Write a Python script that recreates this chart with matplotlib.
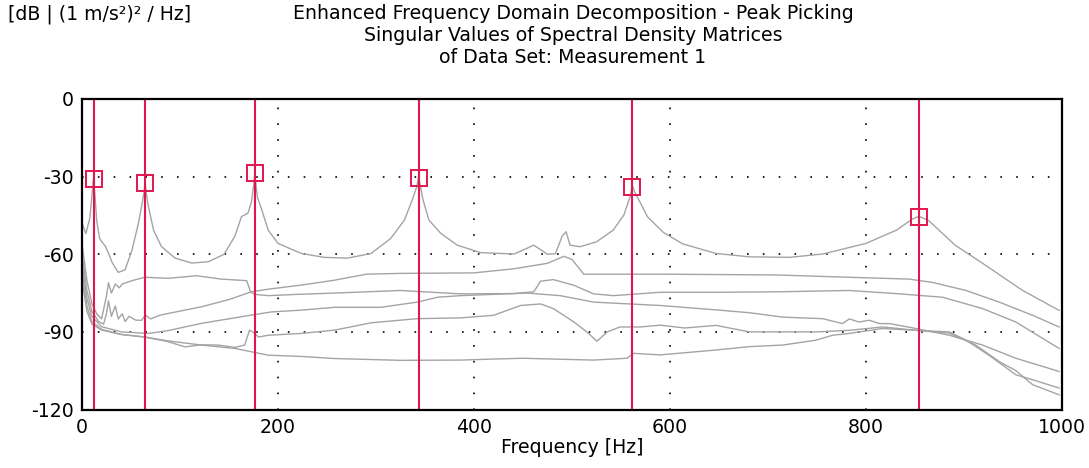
"""EFDD peak picking: singular values of spectral density matrices."""
import matplotlib
matplotlib.use("Agg")
import matplotlib.pyplot as plt

plt.rcParams["font.family"] = ["DejaVu Sans"]
plt.rcParams["axes.unicode_minus"] = False

# singular value curves (Hz, dB)
sv1_f = [0, 4, 8, 10, 11.5, 13, 15, 18, 24, 27, 31, 37, 44, 51, 57.6, 61.5, 63.5, 64.4, 65.5, 67.5,
         73, 81, 95, 112, 129, 145, 156, 162.7, 169.5, 173, 175.3, 176.3, 177.5, 179, 183, 190,
         200, 217, 224, 247, 271, 295, 315, 329, 337, 341.5, 343.4, 345.5, 348, 354, 366, 383,
         407, 441, 461, 475, 483, 490, 494, 498, 508, 525, 542, 553, 559, 561.7, 564, 570, 577,
         593, 613, 647, 681, 722, 756, 800, 831, 847, 854, 864, 891, 919, 959, 997]
sv1_db = [-48, -52, -46, -38, -31, -36, -47, -54, -57, -59.6, -63.4, -67, -66, -58.4, -48, -40,
          -35.5, -32, -36, -41, -50.7, -57, -61.5, -63.4, -62.9, -60, -53, -45.5, -44, -39.6,
          -33, -28.5, -33, -38, -42.3, -50.7, -55.8, -58.6, -59.7, -61.2, -61.5, -59.7, -53.9,
          -46.8, -39, -34, -30, -34, -39, -46.8, -51.9, -56.5, -59.4, -59.9, -56.5, -60, -59.8,
          -53, -51.3, -56.5, -57.1, -55.2, -50.7, -44.8, -38, -33.5, -36, -40.3, -45.5, -51.5,
          -56, -59.7, -61, -61.2, -59.9, -55.8, -50.7, -46.5, -45.3, -47, -56.5, -63.5, -73.8,
          -81.7]

sv2_f = [0, 5, 10, 15, 20, 25, 27, 30, 34, 38, 41, 51, 64, 88, 117, 142, 168, 172, 176, 190, 220,
         258, 325, 386, 440, 461, 468, 481, 502, 522, 542, 590, 650, 712, 783, 834, 878, 919,
         953, 997]
sv2_db = [-56, -70, -79, -83, -85, -76, -71, -75, -71.5, -73, -71.5, -70.2, -68.9, -69.3, -68.3,
          -69.6, -70.2, -74.5, -75.5, -76, -75.5, -75, -74, -75.3, -75.2, -74.5, -70.4, -69.8,
          -72, -75.3, -76, -74.7, -74.7, -74.5, -74, -75.3, -76.6, -81, -86.2, -96.4]

sv3_f = [0, 5, 10, 17, 22, 25, 27, 30, 34, 37, 41, 44, 48, 55, 61, 64.5, 70, 80, 122, 150, 173,
         190, 224, 258, 290, 325, 400, 441, 475, 491.6, 500, 512, 590, 708, 783, 844, 868, 902,
         936, 970, 997]
sv3_db = [-60, -74, -82, -86, -87, -83, -78, -84, -80, -85, -83, -86, -84, -85.5, -85.5, -83.5,
          -85, -83.5, -80.3, -77.5, -74.5, -73.5, -71.9, -70, -67.7, -67.4, -67.2, -65.6, -63.5,
          -60.8, -62, -67.7, -67.7, -68, -68.9, -69.6, -70.9, -74, -78.5, -83.6, -88.1]

sv4_f = [0, 5, 10, 20, 40, 67.8, 88, 122, 173, 193, 224, 258, 305, 342, 363, 386, 454, 488, 522,
         590, 647, 681, 715, 756, 776, 783, 793, 803, 814, 824, 851, 868, 885, 919, 953, 997]
sv4_db = [-63, -77, -84, -88, -90, -90.6, -89.5, -86.7, -83.5, -82.3, -81.6, -80.5, -80.5, -78.5,
          -76.6, -76, -75, -76, -78.5, -79.8, -81.5, -82.6, -84.3, -84.9, -86.8, -85, -86.2,
          -85.5, -86.8, -86.8, -88.7, -90, -91.3, -95.1, -100.2, -105.3]

sv5_f = [0, 5, 10, 20, 40, 64, 88, 105, 122, 139, 156, 166, 171, 176, 180, 190, 224, 258, 295,
         342, 386, 420, 447.5, 468, 481, 502, 515, 525.5, 536, 549, 570, 590, 615, 647, 681,
         750, 783, 817, 851, 885, 902, 925, 953, 970, 997]
sv5_db = [-66, -80, -86, -89, -91, -92, -93.8, -95.8, -95, -95.1, -96, -95.1, -89.3, -90.5, -92,
          -91.3, -90.6, -89.3, -86.5, -84.9, -84.6, -83.6, -79.8, -79.2, -81, -86.2, -90, -93.6,
          -90, -88.1, -88.1, -87.4, -88.5, -87.5, -90, -90, -89.4, -88.1, -89.4, -90, -93.2,
          -98.9, -106.6, -108.5, -111.7]

sv6_f = [0, 5, 10, 20, 40, 64.4, 88, 122, 156, 173, 190, 224, 258, 325, 386, 420, 450, 480, 522,
         556, 563, 590, 647, 681, 715, 749, 766, 783, 817, 851, 885, 912, 936, 953, 970, 997]
sv6_db = [-70, -82, -87, -89.3, -91, -92, -93.5, -95.1, -96.4, -97.7, -99, -99.5, -100.3, -101,
          -100.9, -100.5, -100.2, -100.5, -100.9, -100.2, -98.3, -98.9, -97, -95.7, -95.1, -93.2,
          -91.3, -90.6, -88.7, -89.4, -90.5, -95.1, -101.5, -105, -110.4, -114.3]

# picked peaks
peak_f = [11.9, 64.4, 176.3, 343.4, 561.7, 854.3]
peak_db = [-30.8, -32.6, -28.7, -30.4, -34.2, -45.7]

curves = [(sv1_f, sv1_db), (sv2_f, sv2_db), (sv3_f, sv3_db),
          (sv4_f, sv4_db), (sv5_f, sv5_db), (sv6_f, sv6_db)]

RED = "#e2164f"
GREY = "#a4a4a4"
FS = 13.6

fig = plt.figure(figsize=(10.89, 4.68), dpi=100)
ax = fig.add_axes([82 / 1089, 1 - 409.5 / 468, 980 / 1089, 310.5 / 468])

for f, db in curves:
    ax.plot(f, db, color=GREY, lw=1.0, zorder=2)

for f in peak_f:
    ax.axvline(f, color=RED, lw=1.5, zorder=3)
ax.plot(peak_f, peak_db, ls="none", marker="s", ms=12, mfc="none", mec=RED, mew=1.4, zorder=4)

ax.set_xlim(0, 1000)
ax.set_ylim(-120, 0)
ax.set_xticks([0, 200, 400, 600, 800, 1000])
ax.set_yticks([0, -30, -60, -90, -120])
ax.tick_params(length=0, labelsize=FS, pad=6)
ax.grid(True, color="black", lw=1.2, linestyle=(0, (1, 8.5)))
for s in ax.spines.values():
    s.set_linewidth(1.6)
    s.set_color("black")
    s.set_zorder(5)

ax.set_xlabel("Frequency [Hz]", fontsize=FS, labelpad=1)
fig.text(8 / 1089, 1 - 4 / 468, "[dB | (1 m/s²)² / Hz]", fontsize=FS, ha="left", va="top")
fig.text(573 / 1089, 1 - 4 / 468,
         "Enhanced Frequency Domain Decomposition - Peak Picking\n"
         "Singular Values of Spectral Density Matrices\n"
         "of Data Set: Measurement 1",
         fontsize=FS, ha="center", va="top", linespacing=1.2)

fig.savefig("out.png", dpi=100)
